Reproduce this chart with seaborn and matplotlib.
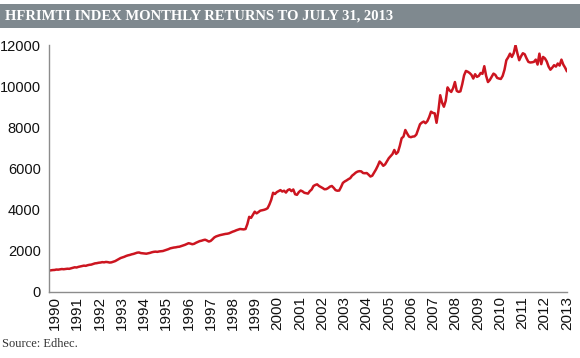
import numpy as np
import pandas as pd
import matplotlib
matplotlib.use("Agg")
import matplotlib.pyplot as plt
import seaborn as sns

# monthly index values, Jan 1990 .. Jul 2013
v1990 = [1040, 1055, 1065, 1070, 1090, 1085, 1100, 1115, 1105, 1120, 1130, 1125]
v1991 = [1150, 1180, 1200, 1190, 1220, 1240, 1260, 1280, 1270, 1300, 1320, 1330]
v1992 = [1360, 1390, 1400, 1420, 1430, 1450, 1440, 1460, 1450, 1430, 1440, 1470]
v1993 = [1500, 1550, 1600, 1650, 1680, 1710, 1750, 1780, 1800, 1830, 1850, 1880]
v1994 = [1910, 1920, 1890, 1880, 1870, 1860, 1880, 1900, 1930, 1950, 1960, 1950]
v1995 = [1970, 1980, 1990, 2020, 2050, 2080, 2120, 2140, 2160, 2170, 2190, 2200]
v1996 = [2230, 2260, 2290, 2330, 2370, 2350, 2320, 2340, 2390, 2430, 2470, 2490]
v1997 = [2520, 2540, 2500, 2450, 2480, 2560, 2650, 2700, 2730, 2760, 2780, 2800]
v1998 = [2820, 2830, 2850, 2890, 2930, 2960, 3000, 3030, 3060, 3050, 3040, 3060]
v1999 = [3300, 3650, 3600, 3750, 3900, 3820, 3880, 3950, 3970, 3990, 4020, 4070]
v2000 = [4250, 4480, 4820, 4760, 4850, 4900, 4950, 4880, 4920, 4830, 4950, 4990]
v2001 = [4900, 4980, 4750, 4720, 4850, 4930, 4890, 4820, 4800, 4780, 4900, 4980]
v2002 = [5150, 5200, 5230, 5150, 5100, 5050, 4990, 5000, 5050, 5120, 5150, 5060]
v2003 = [4950, 4920, 4930, 5100, 5300, 5370, 5420, 5480, 5530, 5650, 5720, 5800]
v2004 = [5850, 5870, 5860, 5780, 5770, 5780, 5700, 5610, 5650, 5800, 5950, 6130]
v2005 = [6340, 6250, 6130, 6200, 6350, 6500, 6600, 6700, 6900, 6710, 6800, 7100]
v2006 = [7470, 7550, 7870, 7700, 7550, 7520, 7550, 7560, 7650, 7900, 8150, 8230]
v2007 = [8280, 8200, 8300, 8500, 8760, 8700, 8680, 8220, 8800, 9560, 9200, 9000]
v2008 = [9290, 9940, 9800, 9720, 9900, 10200, 9770, 9720, 9750, 10100, 10530, 10740]
v2009 = [10700, 10640, 10550, 10370, 10580, 10450, 10500, 10640, 10600, 10970, 10500, 10200]
v2010 = [10300, 10450, 10610, 10550, 10400, 10370, 10350, 10500, 10800, 11260, 11400, 11580]
v2011 = [11420, 11600, 11990, 11600, 11260, 11450, 11600, 11550, 11350, 11180, 11150, 11160]
v2012 = [11180, 11290, 11050, 11580, 11070, 11420, 11350, 11200, 10950, 10800, 10900, 11020]
v2013 = [10950, 11100, 11000, 11290, 11050, 10900, 10720]

years = [str(y) for y in range(1990, 2014)]
yticks = [0, 2000, 4000, 6000, 8000, 10000, 12000]

values = (v1990 + v1991 + v1992 + v1993 + v1994 + v1995 + v1996 + v1997
          + v1998 + v1999 + v2000 + v2001 + v2002 + v2003 + v2004 + v2005
          + v2006 + v2007 + v2008 + v2009 + v2010 + v2011 + v2012 + v2013)
df = pd.DataFrame({"month": np.arange(len(values)), "value": values})

sns.set_style("white")
sans = ["Liberation Sans", "DejaVu Sans"]
serif = ["Liberation Serif", "DejaVu Serif"]

fig = plt.figure(figsize=(5.8, 3.58), dpi=100)
ax = fig.add_axes([0.0845, 0.1844, 0.893, 0.6899])

sns.lineplot(data=df, x="month", y="value", ax=ax, color="#cc1520", linewidth=1.8)

ax.set_xlim(0, len(values) - 1)
ax.set_ylim(0, 12000)
ax.set_xlabel("")
ax.set_ylabel("")
ax.set_yticks(yticks)
ax.set_yticklabels([str(t) for t in yticks], family=sans, fontsize=10.5, color="#111111")
ax.set_xticks(np.linspace(3.3, len(values) - 1, len(years)))
ax.set_xticklabels(years, rotation=90, family=sans, fontsize=11, color="#111111")
ax.tick_params(axis="y", length=0, pad=6)
ax.tick_params(axis="x", length=0, pad=3)

for s in ["top", "right"]:
    ax.spines[s].set_visible(False)
for s in ["left", "bottom"]:
    ax.spines[s].set_color("#8c8c8c")
    ax.spines[s].set_linewidth(1.0)

# grey title band
fig.patches.append(plt.Rectangle((0, 1 - 28 / 358), 1, 24 / 358, transform=fig.transFigure,
                                 facecolor="#7f898f", edgecolor="none", zorder=0))
fig.text(5 / 580, 1 - 16 / 358, "HFRIMTI INDEX MONTHLY RETURNS TO JULY 31, 2013",
         family=serif, fontsize=10.5, fontweight="bold", color="white", va="center", ha="left")
fig.text(2 / 580, 1 - 344 / 358, "Source: Edhec.", family=serif, fontsize=9,
         color="#333333", va="center", ha="left")

fig.savefig("out.png", dpi=100)
